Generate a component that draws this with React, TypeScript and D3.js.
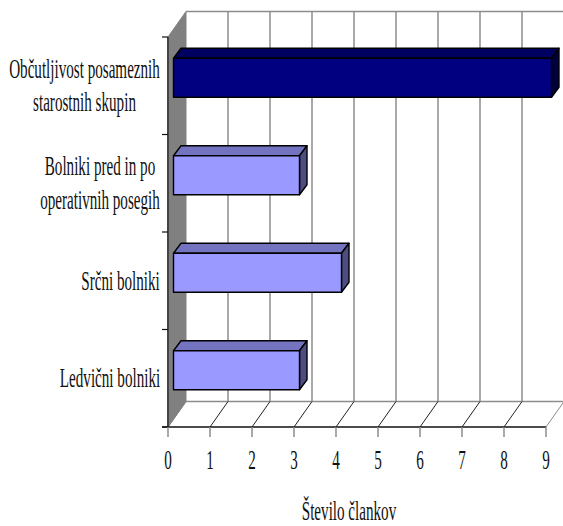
import React from "react";
import * as d3 from "d3";

const categories = [
  ["Občutljivost posameznih", "starostnih skupin"],
  ["Bolniki pred in po", "operativnih posegih"],
  ["Srčni bolniki"],
  ["Ledvični bolniki"],
];
const articleCounts = [9, 3, 4, 3];
const barPalettes = [
  { front: "#000080", top: "#000060", side: "#000040" },
  { front: "#9999ff", top: "#7373bf", side: "#4d4d80" },
  { front: "#9999ff", top: "#7373bf", side: "#4d4d80" },
  { front: "#9999ff", top: "#7373bf", side: "#4d4d80" },
];
const xTicks = [0, 1, 2, 3, 4, 5, 6, 7, 8, 9];
const axisTitle = "Število člankov";

const W = 563;
const H = 526;
const depthX = 18;
const depthY = 25.5;
const barDepthX = 7.5;
const barDepthY = 10;
const barInsetX = 5.5;
const labelCenters = [84.5, 100, 120.5, 110];

const x = d3.scaleLinear().domain([0, 9]).range([168, 546]);
const y = d3
  .scaleBand<number>()
  .domain(d3.range(categories.length))
  .range([29, 419])
  .paddingInner(0.6)
  .paddingOuter(0.3);

const serif = "'Liberation Serif', serif";
const poly = (pts: number[][]) => d3.line()(pts as [number, number][]) + "Z";

// Narrow serif text: the glyphs are squeezed horizontally around their centre.
function Label({ cx, by, children }: { cx: number; by: number; children: string }) {
  return (
    <text
      x={cx}
      y={by}
      textAnchor="middle"
      fontFamily={serif}
      fontSize={27}
      fill="#111"
      transform={`translate(${cx} 0) scale(0.56 1) translate(${-cx} 0)`}
    >
      {children}
    </text>
  );
}

export default function App() {
  const left = x(0);
  const right = x(9);
  const top = 37;
  const bottom = 427;
  const gridColor = "#8c8c8c";
  const bandStep = y.step();
  const catTicks = d3.range(categories.length + 1).map((i) => top + i * bandStep);

  return (
    <svg
      width={W}
      height={H}
      viewBox={`0 0 ${W} ${H}`}
      style={{ position: "absolute", left: 0, top: 0, background: "#fff" }}
    >
      {/* side wall */}
      <path
        d={poly([
          [left, top],
          [left + depthX, top - depthY],
          [left + depthX, bottom - depthY],
          [left, bottom],
        ])}
        fill="#808080"
        stroke="#808080"
      />
      {/* back wall frame and gridlines */}
      <line x1={left + depthX} x2={right + depthX} y1={top - depthY} y2={top - depthY} stroke={gridColor} strokeWidth={1.5} />
      <line x1={left + depthX} x2={right + depthX} y1={bottom - depthY} y2={bottom - depthY} stroke={gridColor} strokeWidth={1.5} />
      {xTicks.slice(1, -1).map((t) => (
        <line
          key={t}
          x1={x(t) + depthX}
          x2={x(t) + depthX}
          y1={top - depthY}
          y2={bottom - depthY}
          stroke={gridColor}
          strokeWidth={1.5}
        />
      ))}
      {/* floor diagonals */}
      {xTicks.map((t) => (
        <line
          key={t}
          x1={x(t)}
          y1={bottom}
          x2={x(t) + depthX}
          y2={bottom - depthY}
          stroke={t === 9 ? gridColor : t === 0 ? "#808080" : "#222"}
          strokeWidth={1}
        />
      ))}
      {/* axes */}
      <line x1={left} x2={left} y1={top} y2={bottom} stroke="#444" strokeWidth={2} />
      <line x1={left - 6} x2={right} y1={bottom} y2={bottom} stroke="#111" strokeWidth={1.3} />
      {catTicks.map((v) => (
        <line key={v} x1={left - 6} x2={left} y1={v} y2={v} stroke="#111" strokeWidth={1.2} />
      ))}
      {xTicks.map((t) => (
        <g key={t}>
          <line x1={x(t)} x2={x(t)} y1={bottom} y2={bottom + 10} stroke={gridColor} strokeWidth={1.5} />
          <Label cx={x(t)} by={469}>{String(t)}</Label>
        </g>
      ))}
      {/* bars */}
      {articleCounts.map((v, i) => {
        const y0 = y(i)!;
        const y1 = y0 + y.bandwidth();
        const x0 = left + barInsetX;
        const x1 = x(v) + barInsetX;
        const c = barPalettes[i];
        return (
          <g key={i} stroke="#000" strokeWidth={1.4} strokeLinejoin="round">
            <path
              d={poly([
                [x0, y0],
                [x0 + barDepthX, y0 - barDepthY],
                [x1 + barDepthX, y0 - barDepthY],
                [x1, y0],
              ])}
              fill={c.top}
            />
            <path
              d={poly([
                [x1, y0],
                [x1 + barDepthX, y0 - barDepthY],
                [x1 + barDepthX, y1 - barDepthY],
                [x1, y1],
              ])}
              fill={c.side}
            />
            <rect x={x0} y={y0} width={x1 - x0} height={y1 - y0} fill={c.front} />
          </g>
        );
      })}
      {/* category labels */}
      {categories.map((lines, i) => {
        const c = catTicks[i] + bandStep / 2;
        return lines.map((line, j) => (
          <Label key={line} cx={labelCenters[i]} by={c + 9 + (j - (lines.length - 1) / 2) * 33.5}>
            {line}
          </Label>
        ));
      })}
      <Label cx={349} by={520}>{axisTitle}</Label>
    </svg>
  );
}
